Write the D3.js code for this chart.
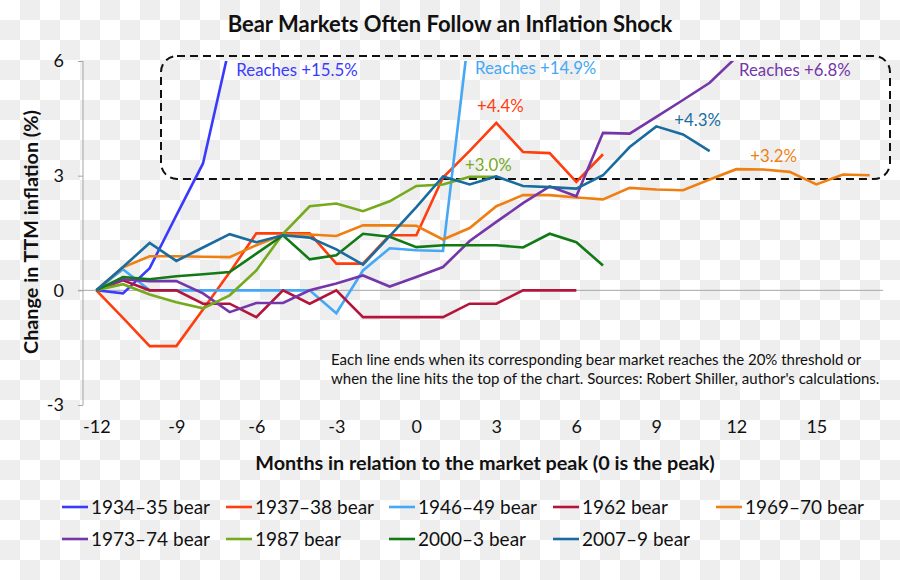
<!DOCTYPE html>
<html>
<head>
<meta charset="utf-8">
<script src="https://cdnjs.cloudflare.com/ajax/libs/d3/7.8.5/d3.min.js"></script>
<style>
  html, body { margin: 0; padding: 0; background: #fff; }
  svg { display: block; font-family: Lato, "Open Sans", sans-serif; }
</style>
</head>
<body>
<svg id="chart" width="900" height="580"></svg>
<script>
// ---------------- DATA ----------------
const seriesNames = ["1934–35 bear", "1937–38 bear", "1946–49 bear", "1962 bear", "1969–70 bear",
                     "1973–74 bear", "1987 bear", "2000–3 bear", "2007–9 bear"];
const startMonth = -12;
const xTicks = [-12, -9, -6, -3, 0, 3, 6, 9, 12, 15];
const yTicks = [-3, 0, 3, 6];

// values from month -12 onward, one per month (values above 6 are clipped at chart top)
const bear1934 = [0, -0.08, 0.58, 1.96, 3.32, 6.4];
const bear1937 = [0, -0.72, -1.46, -1.46, -0.5, 0.47, 1.49, 1.49, 1.49, 0.7, 0.7, 1.44, 1.44, 2.95, 3.65, 4.38, 3.62, 3.59, 2.84, 3.56];
const bear1946 = [0, 0.55, 0, 0, 0, 0, 0, 0, 0, -0.6, 0.52, 1.1, 1.05, 1.03, 6.9];
const bear1962 = [0, 0.26, 0, 0, -0.35, -0.35, -0.7, 0, -0.35, 0, -0.7, -0.7, -0.7, -0.7, -0.35, -0.35, 0, 0, 0];
const bear1969 = [0, 0.6, 0.89, 0.89, 0.88, 0.87, 1.18, 1.46, 1.46, 1.42, 1.7, 1.7, 1.69, 1.33, 1.63, 2.2, 2.49, 2.49, 2.43, 2.38, 2.68, 2.64, 2.62, 2.9, 3.17, 3.16, 3.1, 2.77, 3.03, 3.01];
const bear1973 = [0, 0.29, 0.24, 0.24, -0.08, -0.57, -0.33, -0.33, 0, 0.18, 0.39, 0.1, 0.35, 0.61, 1.29, 1.79, 2.28, 2.72, 2.46, 4.12, 4.1, 4.54, 4.98, 5.43, 6.1];
const bear1987 = [0, 0.16, -0.11, -0.31, -0.47, -0.13, 0.52, 1.48, 2.2, 2.27, 2.07, 2.33, 2.73, 2.77, 2.97, 2.97];
const bear2000 = [0, 0.35, 0.29, 0.37, 0.42, 0.48, 0.96, 1.44, 0.81, 0.92, 1.48, 1.4, 1.13, 1.18, 1.18, 1.18, 1.12, 1.48, 1.26, 0.65];
const bear2007 = [0, 0.61, 1.24, 0.77, 1.12, 1.47, 1.26, 1.44, 1.38, 1.07, 0.67, 1.42, 2.18, 2.98, 2.77, 2.98, 2.73, 2.7, 2.66, 3.01, 3.75, 4.29, 4.08, 3.64];
const seriesValues = [bear1934, bear1937, bear1946, bear1962, bear1969, bear1973, bear1987, bear2000, bear2007];
const seriesColors = ["#3a3aff", "#ff3d0d", "#44a8f7", "#b4143c", "#f07f12", "#7436a8", "#75aa1c", "#117a14", "#1a6c9e"];

const labelTexts = ["Reaches +15.5%", "+4.4%", "Reaches +14.9%", null, "+3.2%", "Reaches +6.8%", "+3.0%", null, "+4.3%"];

// ---------------- DRAW ----------------
const svg = d3.select("#chart");
const W = 900, H = 580;

// checkerboard background
const defs = svg.append("defs");
const pat = defs.append("pattern").attr("id", "chk").attr("width", 40).attr("height", 40)
  .attr("patternUnits", "userSpaceOnUse");
pat.append("rect").attr("width", 40).attr("height", 40).attr("fill", "#ffffff");
pat.append("rect").attr("x", 20).attr("y", 0).attr("width", 20).attr("height", 20).attr("fill", "#eeeeee");
pat.append("rect").attr("x", 0).attr("y", 20).attr("width", 20).attr("height", 20).attr("fill", "#eeeeee");
svg.append("rect").attr("width", W).attr("height", H).attr("fill", "url(#chk)");

const x = d3.scaleLinear().domain([-12.5, 17.5]).range([83, 883]);
const y = d3.scaleLinear().domain([-3, 6]).range([405, 61]);

defs.append("clipPath").attr("id", "plotclip").append("rect")
  .attr("x", 83).attr("y", 61).attr("width", 800).attr("height", 344);

// Title
svg.append("text").attr("x", 450).attr("y", 32).attr("text-anchor", "middle")
  .attr("font-weight", "bold").attr("font-size", 22).attr("fill", "#111")
  .text("Bear Markets Often Follow an Inflation Shock");

// y axis
const fmt = d => String(d);
const yAxis = d3.axisLeft(y).tickValues(yTicks).tickSize(5).tickPadding(14).tickFormat(fmt);
const gy = svg.append("g").attr("transform", "translate(83,0)").call(yAxis);
gy.select(".domain").attr("stroke", "#a6a6a6").attr("d", "M0,61V405");
gy.selectAll(".tick line").attr("stroke", "#a6a6a6");
gy.selectAll(".tick text").attr("font-size", 18).attr("fill", "#111").attr("font-family", "Lato, sans-serif");

// zero line
svg.append("line").attr("x1", 78).attr("x2", 883).attr("y1", y(0)).attr("y2", y(0))
  .attr("stroke", "#a6a6a6").attr("stroke-width", 1);

// x tick labels (axis at bottom, labels only)
const xAxis = d3.axisBottom(x).tickValues(xTicks).tickSize(0).tickPadding(0).tickFormat(fmt);
const gx = svg.append("g").attr("transform", "translate(0,420)").call(xAxis);
gx.select(".domain").remove();
gx.selectAll(".tick text").attr("font-size", 18).attr("fill", "#111").attr("font-family", "Lato, sans-serif");

// Axis titles
svg.append("text").attr("x", 485).attr("y", 470).attr("text-anchor", "middle")
  .attr("font-weight", "bold").attr("font-size", 19.8).attr("fill", "#111")
  .text("Months in relation to the market peak (0 is the peak)");
svg.append("text").attr("transform", "translate(38,232) rotate(-90)").attr("text-anchor", "middle")
  .attr("font-weight", "bold").attr("font-size", 19.8).attr("fill", "#111")
  .text("Change in TTM inflation (%)");

// Dashed rounded box
svg.append("rect").attr("x", 161).attr("y", 56).attr("width", 729).attr("height", 123)
  .attr("rx", 16).attr("ry", 16).attr("fill", "none").attr("stroke", "#111")
  .attr("stroke-width", 2).attr("stroke-dasharray", "8,5");

// Lines
const line = d3.line().x((d, i) => x(startMonth + i)).y(d => y(d));
const gl = svg.append("g").attr("clip-path", "url(#plotclip)");
seriesValues.forEach((vals, k) => {
  gl.append("path").datum(vals).attr("d", line).attr("fill", "none")
    .attr("stroke", seriesColors[k]).attr("stroke-width", 2.6)
    .attr("stroke-linejoin", "miter").attr("stroke-linecap", "butt");
});

// End labels (positions in data units)
const labelPos = [
  [-6.75, 5.6, "start"], [3.15, 4.67, "middle"], [2.2, 5.65, "start"], null, [13.4, 3.36, "middle"],
  [12.1, 5.62, "start"], [2.7, 3.12, "middle"], null, [10.55, 4.3, "middle"]
];
labelTexts.forEach((t, k) => {
  if (!t) return;
  const p = labelPos[k];
  svg.append("text").attr("x", x(p[0])).attr("y", y(p[1])).attr("text-anchor", p[2])
    .attr("font-size", 16.8).attr("fill", seriesColors[k]).text(t);
});

// Note
const note = svg.append("text").attr("font-size", 15).attr("fill", "#111");
note.append("tspan").attr("x", 331).attr("y", 365)
  .text("Each line ends when its corresponding bear market reaches the 20% threshold or");
note.append("tspan").attr("x", 331).attr("y", 384)
  .text("when the line hits the top of the chart. Sources: Robert Shiller, author's calculations.");

// Legend
const legCols = [62, 226, 389, 553, 716];
const legRows = [507, 539];
seriesNames.forEach((name, k) => {
  const col = k < 5 ? k : k - 5;
  const row = k < 5 ? 0 : 1;
  const g = svg.append("g").attr("transform", `translate(${legCols[col]},${legRows[row]})`);
  g.append("line").attr("x1", 0).attr("x2", 26).attr("y1", 0).attr("y2", 0)
    .attr("stroke", seriesColors[k]).attr("stroke-width", 2.6);
  g.append("text").attr("x", 29).attr("y", 7).attr("font-size", 19).attr("fill", "#111").text(name);
});
</script>
</body>
</html>
